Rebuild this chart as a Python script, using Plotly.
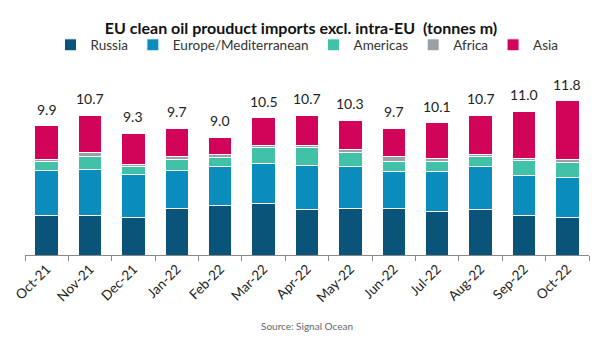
import plotly.graph_objects as go

months = ["Oct-21", "Nov-21", "Dec-21", "Jan-22", "Feb-22", "Mar-22", "Apr-22",
          "May-22", "Jun-22", "Jul-22", "Aug-22", "Sep-22", "Oct-22"]
russia = [3.05, 3.05, 2.88, 3.56, 3.82, 3.92, 3.51, 3.56, 3.56, 3.36, 3.51, 3.05, 2.90]
europe = [3.38, 3.51, 3.28, 2.93, 2.93, 3.08, 3.36, 3.18, 2.85, 3.05, 3.23, 3.05, 3.05]
americas = [0.74, 0.94, 0.64, 0.81, 0.71, 1.22, 1.32, 1.09, 0.76, 0.76, 0.81, 1.12, 1.12]
africa = [0.15, 0.33, 0.13, 0.25, 0.25, 0.18, 0.15, 0.23, 0.33, 0.20, 0.15, 0.18, 0.23]
asia = [2.58, 2.87, 2.37, 2.15, 1.29, 2.10, 2.36, 2.24, 2.20, 2.73, 3.00, 3.60, 4.50]
totals = [9.9, 10.7, 9.3, 9.7, 9.0, 10.5, 10.7, 10.3, 9.7, 10.1, 10.7, 11.0, 11.8]

series = [
    ("Russia", russia, "#0B5479"),
    ("Europe/Mediterranean", europe, "#0A8DBC"),
    ("Americas", americas, "#40C1A8"),
    ("Africa", africa, "#9AA0A4"),
    ("Asia", asia, "#D1045A"),
]

fig = go.Figure()
for name, vals, col in series:
    fig.add_trace(go.Bar(
        x=months, y=vals, name=name,
        marker=dict(color=col, line=dict(color="white", width=1)),
    ))

annotations = []
for m, t in zip(months, totals):
    annotations.append(dict(
        x=m, y=t, xref="x", yref="y", text=f"{t:.1f}", showarrow=False,
        yanchor="bottom", yshift=6,
        font=dict(size=14, color="#222222", family="Lato, Open Sans, sans-serif"),
    ))
annotations.append(dict(text="Source: Signal Ocean", x=0.5, xref="paper", y=-0.42, yref="paper",
                        yanchor="middle", showarrow=False,
                        font=dict(size=10, color="#666666")))

fig.update_layout(
    width=602, height=338,
    barmode="stack", bargap=0.46,
    paper_bgcolor="white", plot_bgcolor="white",
    margin=dict(l=23, r=13, t=85, b=83),
    font=dict(family="Lato, Open Sans, sans-serif", color="#333333"),
    title=dict(text="<b>EU clean oil prouduct imports excl. intra-EU  (tonnes m)</b>",
               x=0.5, xanchor="center", y=0.915, yanchor="middle",
               font=dict(size=16, color="#111111")),
    legend=dict(orientation="h", x=0.5, xanchor="center", y=1.235, yanchor="middle",
                font=dict(size=13.5, color="#333333"), traceorder="normal",
                itemwidth=30),
    showlegend=True,
    annotations=annotations,
)

fig.update_xaxes(
    showline=True, linecolor="#888888", linewidth=1,
    ticks="outside", tickson="boundaries", ticklen=5, tickcolor="#888888",
    tickangle=-45, tickfont=dict(size=13.5, color="#222222"),
    showgrid=False,
)
fig.update_yaxes(range=[0, 13], visible=False, showgrid=False)

fig.write_html("out.html")
